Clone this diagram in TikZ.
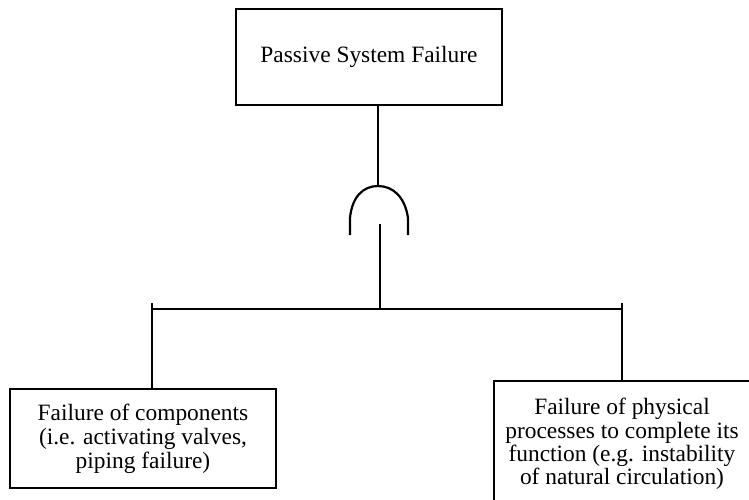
\documentclass[tikz,border=0pt]{standalone}
\usepackage{fontspec}
\setmainfont{Liberation Serif}
\usepackage{tikz}
\usetikzlibrary{positioning, calc}
\definecolor{ink}{HTML}{000000}
\tikzset{
  event/.style = {rectangle, draw=ink, line width=1.4pt, fill=white,
                  align=center, inner sep=2pt,
                  font=\fontsize{11.7}{12}\selectfont},
  wire/.style  = {draw=ink, line width=1.1pt},
  gate/.style  = {draw=ink, line width=1.1pt, line join=round},
}

\begin{document}
\begin{tikzpicture}[x=0.5pt, y=-0.5pt]
  \useasboundingbox (0,0) rectangle (749,499);

  % top event
  \node[event, minimum width=133pt, minimum height=48pt] (top) at (369,57)
       {Passive System Failure};

  % OR gate, drawn open at the bottom
  \coordinate (gtop) at (378,186);
  \coordinate (gin)  at (380,224);
  \draw[gate] (350,235) -- (350,218)
       .. controls (352,197) and (363,186) .. (gtop)
       .. controls (393,186) and (405,197) .. (408,218) -- (408,235);
  \draw[wire] (top.south -| gtop) -- (gtop);

  % branch bar
  \coordinate (barL) at (152,309);
  \coordinate (barR) at (622,309);
  \coordinate (tickL) at (152,303);
  \coordinate (tickR) at (622,303);
  \draw[wire] (gin) -- (gin |- barL);
  \draw[wire] (barL) -- (barR);

  % basic events
  \node[event, minimum width=133pt, minimum height=49.5pt] (comp) at (143,438.5)
       {Failure of components\\(i.e. activating valves,\\piping failure)};
  \node[event, minimum width=128pt, minimum height=63pt,
        font=\fontsize{11.7}{11.6}\selectfont] (proc) at (622,444)
       {Failure of physical\\processes to complete its\\function (e.g. instability\\of natural circulation)};

  \draw[wire] (tickL) -- (tickL |- comp.north);
  \draw[wire] (tickR) -- (tickR |- proc.north);
\end{tikzpicture}
\end{document}
